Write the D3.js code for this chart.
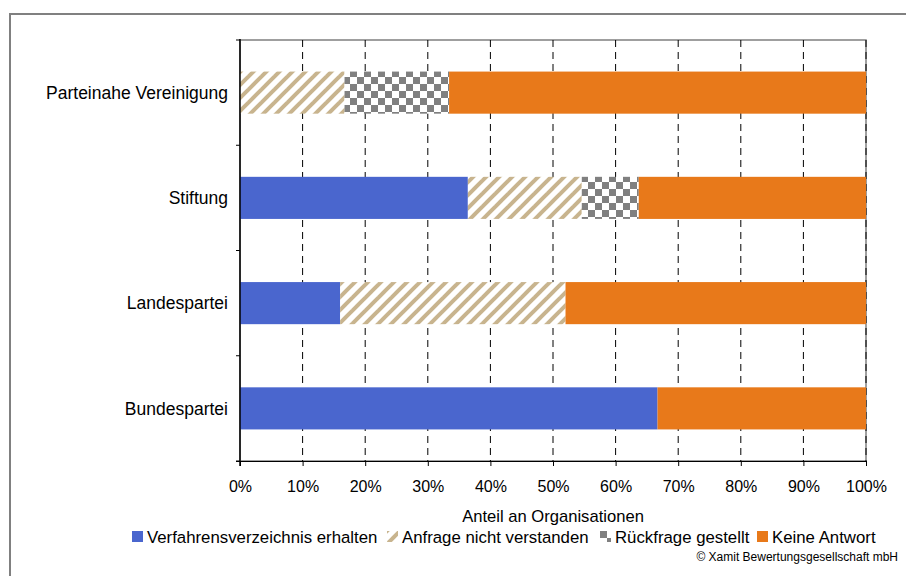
<!DOCTYPE html>
<html>
<head>
<meta charset="utf-8">
<script src="https://cdn.jsdelivr.net/npm/d3@7"></script>
<style>
  html, body { margin: 0; padding: 0; background: #fff; }
  svg { display: block; font-family: "Liberation Sans", Arial, sans-serif; }
</style>
</head>
<body>
<svg id="chart" width="906" height="576"></svg>
<script>
// Categories, bottom to top
const categories = ["Bundespartei", "Landespartei", "Stiftung", "Parteinahe Vereinigung"];

// Shares per category (percent of organisations)
const verfahrensverzeichnis = [66.7, 16.0, 36.4, 0];
const anfrageNichtVerstanden = [0, 36.0, 18.2, 16.7];
const rueckfrage = [0, 0, 9.1, 16.7];
const keineAntwort = [33.3, 48.0, 36.3, 66.6];

const seriesNames = [
  "Verfahrensverzeichnis erhalten",
  "Anfrage nicht verstanden",
  "Rückfrage gestellt",
  "Keine Antwort"
];
const seriesKeys = ["v", "a", "r", "k"];

const xTicks = [0, 10, 20, 30, 40, 50, 60, 70, 80, 90, 100];
const xTitle = "Anteil an Organisationen";
const copyright = "© Xamit Bewertungsgesellschaft mbH";

const rows = categories.map((c, i) => ({
  cat: c,
  v: verfahrensverzeichnis[i],
  a: anfrageNichtVerstanden[i],
  r: rueckfrage[i],
  k: keineAntwort[i]
}));

const svg = d3.select("#chart");

// patterns
const defs = svg.append("defs");
const hatch = defs.append("pattern")
  .attr("id", "hatch")
  .attr("patternUnits", "userSpaceOnUse")
  .attr("width", 13).attr("height", 13);
hatch.append("rect").attr("width", 13).attr("height", 13).attr("fill", "#fff");
hatch.selectAll("line")
  .data([[-13, 13, 13, -13], [0, 13, 13, 0], [0, 26, 26, 0]])
  .join("line")
  .attr("x1", d => d[0]).attr("y1", d => d[1])
  .attr("x2", d => d[2]).attr("y2", d => d[3])
  .attr("stroke", "#C8B48E").attr("stroke-width", 4);

const checker = defs.append("pattern")
  .attr("id", "checker")
  .attr("patternUnits", "userSpaceOnUse")
  .attr("width", 14).attr("height", 14);
checker.append("rect").attr("width", 14).attr("height", 14).attr("fill", "#fff");
checker.append("rect").attr("x", 0).attr("y", 0).attr("width", 7).attr("height", 7).attr("fill", "#808080");
checker.append("rect").attr("x", 7).attr("y", 7).attr("width", 7).attr("height", 7).attr("fill", "#808080");

const fills = {
  v: "#4A66CE",
  a: "url(#hatch)",
  r: "url(#checker)",
  k: "#E8791A"
};

// outer frame (only top and left edges fall inside the canvas)
svg.append("path")
  .attr("d", "M10,580 V14 H910")
  .attr("fill", "none")
  .attr("stroke", "#808080")
  .attr("stroke-width", 2);

const plot = { left: 240, right: 866, top: 40, bottom: 461 };

const x = d3.scaleLinear().domain([0, 100]).range([plot.left, plot.right]);
const y = d3.scaleBand().domain(categories.slice().reverse())
  .range([plot.top, plot.bottom]).paddingInner(0.6).paddingOuter(0.3);
const yBand = d3.scaleBand().domain(categories.slice().reverse())
  .range([plot.top, plot.bottom]);

// plot area border
svg.append("rect")
  .attr("x", plot.left).attr("y", plot.top)
  .attr("width", plot.right - plot.left).attr("height", plot.bottom - plot.top)
  .attr("fill", "none").attr("stroke", "#808080").attr("stroke-width", 1.5);

// dashed vertical gridlines
svg.append("g").selectAll("line")
  .data(xTicks.filter(t => t > 0))
  .join("line")
  .attr("x1", d => x(d)).attr("x2", d => x(d))
  .attr("y1", plot.top).attr("y2", plot.bottom)
  .attr("stroke", "#000").attr("stroke-width", 1)
  .attr("stroke-dasharray", "7,5");

// stacked bars
const stack = d3.stack().keys(seriesKeys)(rows);
svg.append("g").selectAll("g")
  .data(stack)
  .join("g")
  .attr("fill", d => fills[d.key])
  .selectAll("rect")
  .data(d => d.filter(s => s[1] - s[0] > 0))
  .join("rect")
  .attr("x", d => x(d[0]))
  .attr("width", d => x(d[1]) - x(d[0]))
  .attr("y", d => y(d.data.cat))
  .attr("height", y.bandwidth());

// x axis
const xAxis = d3.axisBottom(x)
  .tickValues(xTicks)
  .tickFormat(d => d + "%")
  .tickSize(5)
  .tickPadding(15);
const gx = svg.append("g")
  .attr("transform", `translate(0,${plot.bottom})`)
  .call(xAxis);
gx.select(".domain").attr("d", `M${plot.left - 4},0.5H${plot.right}`).attr("stroke", "#000");
gx.selectAll(".tick line").attr("stroke", "#000");
gx.selectAll("text")
  .attr("font-size", 16).attr("fill", "#000")
  .attr("font-family", "'Liberation Sans', Arial, sans-serif");

// y axis: ticks at band boundaries, labels at band centers
const gy = svg.append("g");
gy.append("line")
  .attr("x1", plot.left).attr("x2", plot.left)
  .attr("y1", plot.top - 1).attr("y2", plot.bottom + 5)
  .attr("stroke", "#000").attr("stroke-width", 1.5);
const bounds = categories.map(c => yBand(c)).concat([plot.bottom]);
gy.selectAll("line.tk")
  .data(bounds)
  .join("line")
  .attr("class", "tk")
  .attr("x1", plot.left - 4).attr("x2", plot.left)
  .attr("y1", d => d).attr("y2", d => d)
  .attr("stroke", "#000").attr("stroke-width", 1);
gy.selectAll("text")
  .data(categories)
  .join("text")
  .attr("x", plot.left - 12)
  .attr("y", d => yBand(d) + yBand.bandwidth() / 2)
  .attr("dy", "0.35em")
  .attr("text-anchor", "end")
  .attr("font-size", 17.5)
  .text(d => d);

// axis title
svg.append("text")
  .attr("x", (plot.left + plot.right) / 2)
  .attr("y", 522)
  .attr("text-anchor", "middle")
  .attr("font-size", 16.6)
  .text(xTitle);

// legend
const legendX = [132, 387, 600, 757];
const lg = svg.append("g").selectAll("g")
  .data(seriesKeys)
  .join("g")
  .attr("transform", (d, i) => `translate(${legendX[i]},531)`);
lg.append("rect")
  .attr("width", 11).attr("height", 11)
  .attr("fill", d => fills[d]);
lg.append("text")
  .attr("x", 15).attr("y", 6)
  .attr("dy", "0.35em")
  .attr("font-size", 16.8)
  .text((d, i) => seriesNames[i]);

// copyright
svg.append("text")
  .attr("x", 898).attr("y", 561)
  .attr("text-anchor", "end")
  .attr("font-size", 12)
  .text(copyright);
</script>
</body>
</html>
